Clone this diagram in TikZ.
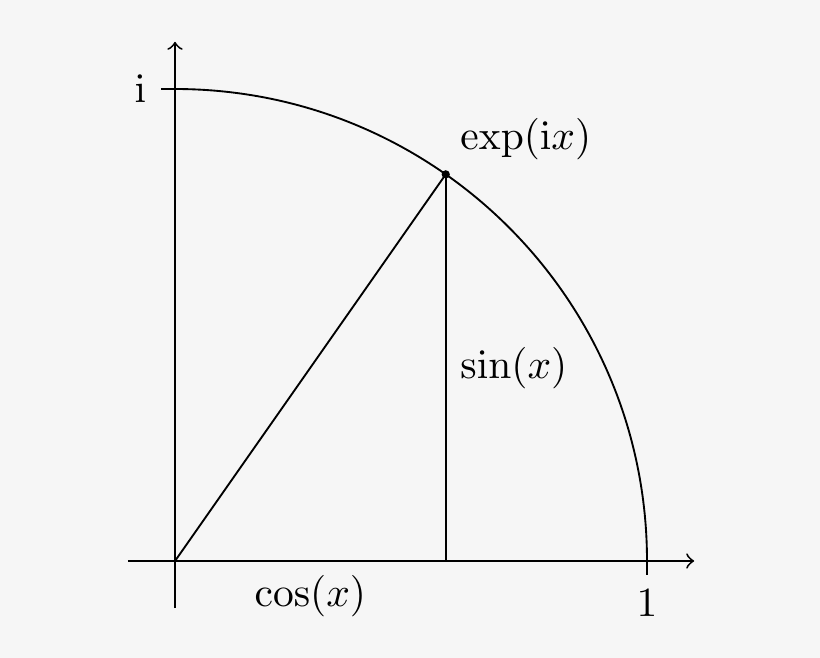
\documentclass[tikz,border=0pt]{standalone}
\definecolor{bgc}{RGB}{246,246,246}
\begin{document}
\begin{tikzpicture}[scale=4, line width=0.45pt,
  axis/.style={->},
  dotnode/.style={circle, fill=black, inner sep=0pt, minimum size=2pt}]
\path[fill=bgc, use as bounding box] (-0.3708,-0.2055) rectangle (1.3665,1.1886);
\coordinate (O) at (0,0);
\coordinate (XS) at (-0.1,0);
\coordinate (XE) at (1.1,0);
\coordinate (YS) at (0,-0.1);
\coordinate (YE) at (0,1.1);
\coordinate (E1) at (1,0);
\coordinate (T1) at (1,-0.03);
\coordinate (EI) at (0,1);
\coordinate (TI) at (-0.03,1);
\coordinate (P) at (55:1);
\coordinate (C) at (P |- O);
\draw[axis] (XS) -- (XE);
\draw[axis] (YS) -- (YE);
\draw (E1) -- (T1) node[below] {$1$};
\draw (EI) -- (TI) node[left] {$\mathrm{i}$};
\draw (E1) arc (0:90:1);
\draw (O) -- (P);
\draw (P) -- node[right] {$\sin(x)$} (C);
\draw (O) -- node[below] {$\cos(x)$} (C);
\node[dotnode] (Pd) at (P) {};
\node[above right] (lbl) at (P) {$\exp(\mathrm{i}x)$};
\end{tikzpicture}
\end{document}
